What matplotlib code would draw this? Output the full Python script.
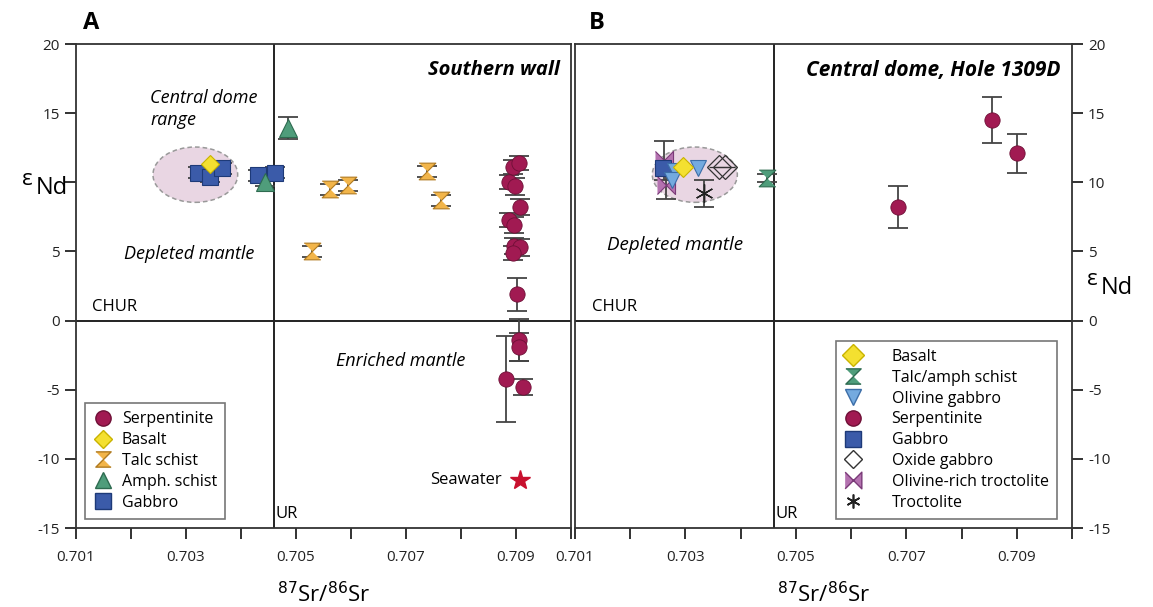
import numpy as np
import matplotlib
matplotlib.use('Agg')
import matplotlib.pyplot as plt
from matplotlib.patches import Ellipse
from matplotlib.lines import Line2D

plt.rcParams['font.family'] = ['Open Sans', 'DejaVu Sans']

# ---- panel A: southern wall ----
serp_a_x = [0.70894, 0.70905, 0.70888, 0.70899, 0.70908, 0.70887, 0.70896,
            0.70897, 0.70907, 0.70894, 0.70901, 0.70905, 0.70905, 0.70881, 0.70912]
serp_a_y = [11.1, 11.4, 10.0, 9.7, 8.2, 7.3, 6.9, 5.4, 5.3, 4.9, 1.9,
            -1.4, -1.9, -4.2, -4.8]
serp_a_yerr = [0.5, 0.5, 0.5, 0.6, 0.6, 0.5, 0.6, 0.6, 0.6, 0.5, 1.2,
               1.5, 1.0, 3.1, 0.6]
basalt_a_x = [0.70343]
basalt_a_y = [11.3]
talc_a_x = [0.70529, 0.70561, 0.70594, 0.70739, 0.70763]
talc_a_y = [5.0, 9.5, 9.8, 10.8, 8.7]
amph_a_x = [0.70485, 0.70443]
amph_a_y = [13.9, 10.0]
amph_a_yerr = [0.8, 0.3]
gabbro_a_x = [0.70322, 0.70343, 0.70365, 0.70431, 0.70461]
gabbro_a_y = [10.7, 10.4, 11.0, 10.5, 10.7]
seawater_x = [0.70907]
seawater_y = [-11.5]

# ---- panel B: central dome, Hole 1309D ----
serp_b_x = [0.70685, 0.70856, 0.70901]
serp_b_y = [8.2, 14.5, 12.1]
serp_b_yerr = [1.5, 1.65, 1.4]
talcamph_b_x = [0.70447]
talcamph_b_y = [10.3]
oltroc_b_x = [0.70262, 0.70265]
oltroc_b_y = [11.6, 9.8]
oltroc_b_yerr = [1.4, 1.0]
gabbro_b_x = [0.70260]
gabbro_b_y = [11.0]
olgab_b_x = [0.70282, 0.70322, 0.70275]
olgab_b_y = [10.8, 11.0, 10.2]
basalt_b_x = [0.70296]
basalt_b_y = [11.1]
oxgab_b_x = [0.70360, 0.70372]
oxgab_b_y = [11.1, 11.1]
troc_b_x = [0.70333]
troc_b_y = [9.2]
troc_b_yerr = [1.0]

# central dome range ellipse (same in both panels)
ell_x, ell_y, ell_w, ell_h = 0.70317, 10.55, 0.00154, 4.0

CHUR = 0.0
UR = 0.7046

y_ticks = [-15, -10, -5, 0, 5, 10, 15, 20]
# left axis of panel A: the 10 label is covered by the εNd label
y_labels_a = ['-15', '-10', '-5', '0', '5', '', '15', '20']
y_labels_b = ['-15', '-10', '-5', '0', '5', '10', '15', '20']

# colours
c_serp = '#A11A52'
c_blue = '#3B5BA9'
c_yel = '#F4E030'
c_talc = '#F2B54A'
c_green = '#4F9D7B'
c_lblue = '#74AADF'
c_purp = '#B472B0'
c_err = '#444444'

hourglass = [(-1, 1), (1, 1), (-1, -1), (1, -1)]
bowtie = [(-1, 1), (1, -1), (1, 1), (-1, -1)]


def errpts(ax, x, y, yerr=None, **kw):
    if yerr is not None:
        ax.errorbar(x, y, yerr=yerr, fmt='none', ecolor=c_err,
                    elinewidth=1.3, capsize=7, capthick=1.3, zorder=3)
    ax.plot(x, y, linestyle='none', zorder=4, **kw)


def frame(ax, ylabels):
    ax.set_xlim(0.701, 0.710)
    ax.set_ylim(-15, 20)
    ax.set_xticks(np.arange(0.701, 0.7101, 0.001))
    ax.set_xticklabels(['0.701', '', '0.703', '', '0.705', '', '0.707', '',
                        '0.709', ''])
    ax.set_yticks(y_ticks)
    ax.set_yticklabels(ylabels)
    ax.tick_params(axis='both', direction='out', length=8, width=1.3,
                   labelsize=11, colors='#222222')
    ax.tick_params(axis='x', pad=8)
    for s in ax.spines.values():
        s.set_linewidth(1.3)
        s.set_color('#333333')
    ax.axhline(CHUR, color='#222222', lw=1.4, zorder=2)
    ax.axvline(UR, color='#222222', lw=1.4, zorder=2)
    ax.add_patch(Ellipse((ell_x, ell_y), ell_w, ell_h, facecolor='#E9D6E3',
                         edgecolor='#999999', linestyle=(0, (3, 2)), lw=1.1,
                         zorder=1))
    ax.text(0.7013, 1.0, 'CHUR', fontsize=12, va='center', ha='left')
    ax.text(UR + 0.00003, -14.0, 'UR', fontsize=12, va='center', ha='left')
    ax.set_xlabel(r'$^{87}$Sr/$^{86}$Sr', fontsize=16, labelpad=12)


fig = plt.figure(figsize=(11.53, 6.07), dpi=100)
ax_a = fig.add_axes([0.0659, 0.1301, 0.4293, 0.7974])
ax_b = fig.add_axes([0.4987, 0.1301, 0.4310, 0.7974])

# ---- panel A ----
frame(ax_a, y_labels_a)
errpts(ax_a, gabbro_a_x, gabbro_a_y, yerr=0.4, marker='s', ms=12,
       mfc=c_blue, mec='#1E3A78', mew=0.8)
errpts(ax_a, basalt_a_x, basalt_a_y, marker='D', ms=9,
       mfc=c_yel, mec='#C9B300', mew=0.8)
errpts(ax_a, amph_a_x, amph_a_y, yerr=amph_a_yerr, marker='^', ms=13,
       mfc=c_green, mec='#2E6B50', mew=0.8)
errpts(ax_a, talc_a_x, talc_a_y, yerr=0.4, marker=hourglass, ms=12,
       mfc=c_talc, mec='#B07A20', mew=0.8)
errpts(ax_a, serp_a_x, serp_a_y, yerr=serp_a_yerr,
       marker='o', ms=11, mfc=c_serp, mec='#6E0F36', mew=0.6)
ax_a.plot(seawater_x, seawater_y, linestyle='none', marker='*', ms=15,
          color='#C8102E', zorder=4)
ax_a.text(0.70875, -11.5, 'Seawater', fontsize=12, ha='right', va='center')

ax_a.text(0.7098, 18.1, 'Southern wall', fontsize=14.5, fontweight='bold',
          style='italic', ha='right', va='center')
ax_a.text(0.70235, 15.3, 'Central dome\nrange', fontsize=13, style='italic',
          ha='left', va='center', linespacing=1.35)
ax_a.text(0.70305, 4.8, 'Depleted mantle', fontsize=13, style='italic',
          ha='center', va='center')
ax_a.text(0.7069, -2.9, 'Enriched mantle', fontsize=13, style='italic',
          ha='center', va='center')
ax_a.text(0.70112, 21.5, 'A', fontsize=17, fontweight='bold', ha='left',
          va='center', clip_on=False)

hand_a = [
    Line2D([], [], ls='none', marker='o', ms=11, mfc=c_serp, mec='#6E0F36'),
    Line2D([], [], ls='none', marker='D', ms=9, mfc=c_yel, mec='#C9B300'),
    Line2D([], [], ls='none', marker=hourglass, ms=11, mfc=c_talc, mec='#B07A20'),
    Line2D([], [], ls='none', marker='^', ms=12, mfc=c_green, mec='#2E6B50'),
    Line2D([], [], ls='none', marker='s', ms=11, mfc=c_blue, mec='#1E3A78'),
]
lab_a = ['Serpentinite', 'Basalt', 'Talc schist', 'Amph. schist', 'Gabbro']
lg = ax_a.legend(hand_a, lab_a, loc='lower left', bbox_to_anchor=(0.002, 0.003),
                 fontsize=11.5, frameon=True, fancybox=False, handlelength=1.2,
                 handletextpad=0.6, labelspacing=0.3, borderpad=0.5)
lg.get_frame().set_edgecolor('#555555')
lg.get_frame().set_linewidth(1.2)

# ---- panel B ----
frame(ax_b, y_labels_b)
ax_b.yaxis.tick_right()
ax_b.yaxis.set_label_position('right')
errpts(ax_b, oltroc_b_x, oltroc_b_y, yerr=oltroc_b_yerr, marker=bowtie, ms=13,
       mfc=c_purp, mec='#7A3A78', mew=0.8)
errpts(ax_b, gabbro_b_x, gabbro_b_y, marker='s', ms=11,
       mfc=c_blue, mec='#1E3A78', mew=0.8)
errpts(ax_b, olgab_b_x, olgab_b_y, marker='v', ms=12,
       mfc=c_lblue, mec='#3C6EA8', mew=0.8)
errpts(ax_b, basalt_b_x, basalt_b_y, marker='D', ms=10,
       mfc=c_yel, mec='#C9B300', mew=0.8)
errpts(ax_b, oxgab_b_x, oxgab_b_y, marker='D', ms=12, mfc='none',
       mec='#333333', mew=0.9)
ax_b.plot(oxgab_b_x, oxgab_b_y, ls='none', marker='_', ms=14, mec='#333333',
          mew=0.9, zorder=4)
errpts(ax_b, troc_b_x, troc_b_y, yerr=troc_b_yerr, marker=(6, 2, 0), ms=13,
       mec='#222222', mew=1.0)
errpts(ax_b, talcamph_b_x, talcamph_b_y, yerr=0.3, marker=hourglass, ms=12,
       mfc=c_green, mec='#2E6B50', mew=0.8)
errpts(ax_b, serp_b_x, serp_b_y, yerr=serp_b_yerr, marker='o', ms=11,
       mfc=c_serp, mec='#6E0F36', mew=0.6)

ax_b.text(0.7098, 18.1, 'Central dome, Hole 1309D', fontsize=15,
          fontweight='bold', style='italic', ha='right', va='center')
ax_b.text(0.70282, 5.5, 'Depleted mantle', fontsize=13.5, style='italic',
          ha='center', va='center')
ax_b.text(0.70125, 21.5, 'B', fontsize=17, fontweight='bold', ha='left',
          va='center', clip_on=False)

hand_b = [
    Line2D([], [], ls='none', marker='D', ms=11, mfc=c_yel, mec='#C9B300'),
    Line2D([], [], ls='none', marker=hourglass, ms=11, mfc=c_green, mec='#2E6B50'),
    Line2D([], [], ls='none', marker='v', ms=12, mfc=c_lblue, mec='#3C6EA8'),
    Line2D([], [], ls='none', marker='o', ms=11, mfc=c_serp, mec='#6E0F36'),
    Line2D([], [], ls='none', marker='s', ms=11, mfc=c_blue, mec='#1E3A78'),
    Line2D([], [], ls='none', marker='D', ms=9, mfc='none', mec='#333333'),
    Line2D([], [], ls='none', marker=bowtie, ms=12, mfc=c_purp, mec='#7A3A78'),
    Line2D([], [], ls='none', marker=(6, 2, 0), ms=10, mec='#222222', mew=1.2),
]
lab_b = ['Basalt', 'Talc/amph schist', 'Olivine gabbro', 'Serpentinite',
         'Gabbro', 'Oxide gabbro', 'Olivine-rich troctolite', 'Troctolite']
lg = ax_b.legend(hand_b, lab_b, loc='lower right', bbox_to_anchor=(0.985, 0.003),
                 fontsize=11.5, frameon=True, fancybox=False, handlelength=1.2,
                 handletextpad=1.8, labelspacing=0.3, borderpad=0.5)
lg.get_frame().set_edgecolor('#555555')
lg.get_frame().set_linewidth(1.2)

# y labels
fig.text(0.019, 0.705, 'ε', fontsize=16, ha='left', va='center')
fig.text(0.031, 0.69, 'Nd', fontsize=17, ha='left', va='center')
fig.text(0.943, 0.54, 'ε', fontsize=16, ha='left', va='center')
fig.text(0.955, 0.525, 'Nd', fontsize=17, ha='left', va='center')

fig.savefig('out.png', dpi=100)
